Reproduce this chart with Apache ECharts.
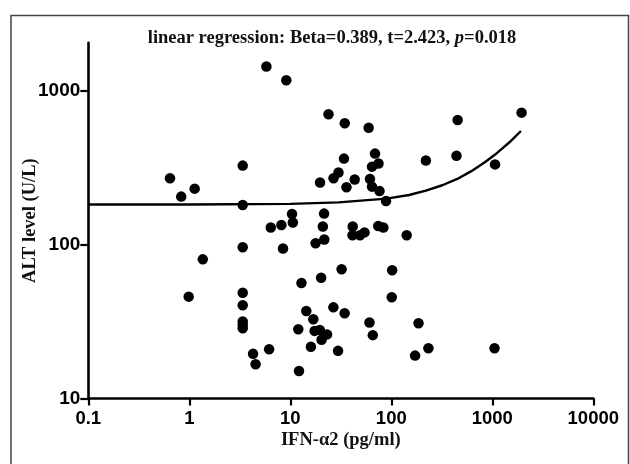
<!DOCTYPE html>
<html>
<head>
<meta charset="utf-8">
<script src="https://cdn.jsdelivr.net/npm/echarts@6/dist/echarts.min.js"></script>
<style>html,body{margin:0;padding:0;background:#fff}#c{width:630px;height:464px}</style>
</head>
<body>
<div id="c"></div>
<script>
// IFN-α2 (pg/ml) values of each subject
const ifnValues = [5.80, 9.13, 23.9, 34.6, 59.7, 0.644, 0.832, 1.13, 3.38, 3.38,
  19.7, 26.8, 30.0, 34.0, 69.0, 74.7, 64.4, 43.4, 36.0, 61.5,
  64.4, 76.4, 88.7, 220, 454, 442, 1064, 1950, 10.4, 10.6,
  8.16, 6.41, 21.6, 21.0, 21.7, 17.8, 8.47, 3.38, 1.36, 41.5,
  41.3, 49.0, 54.3, 74.3, 83.4, 142, 32.2, 102, 101, 20.2,
  12.9, 0.986, 3.38, 3.38, 3.38, 3.38, 3.38, 14.4, 16.9, 26.7,
  34.5, 60.8, 65.6, 186, 233, 172, 1052, 12.0, 17.4, 19.6,
  23.1, 20.4, 16.0, 29.7, 6.17, 4.28, 4.53, 12.2];
// ALT level (U/L) values of each subject
const altValues = [1436, 1169, 702, 614, 575, 270, 205, 231, 326, 181,
  253, 270, 294, 362, 390, 336, 321, 265, 236, 267,
  238, 223, 192, 352, 645, 378, 332, 720, 158, 139,
  134, 129, 159, 131, 108, 102, 94.4, 96.2, 80.2, 131,
  115, 115, 120, 132, 129, 115, 69.1, 68.1, 45.5, 60.9,
  56.3, 45.9, 48.7, 40.4, 31.7, 30.0, 28.6, 37.0, 32.7, 39.1,
  35.8, 31.2, 25.8, 30.8, 21.2, 19.0, 21.2, 28.2, 27.5, 27.9,
  26.1, 24.1, 21.7, 20.4, 20.9, 19.5, 16.7, 15.1];
// regression curve
const curveX = [0.1, 1, 10, 30, 90, 150, 220, 320, 450, 620, 850, 1100, 1250, 1450, 1650, 1920];
const curveY = [182, 182, 184, 188, 199, 210, 224, 243, 267, 300, 344, 391, 420, 457, 495, 547];
// axis ticks
const xTicks = [0.1, 1, 10, 100, 1000, 10000];
const yTicks = [10, 100, 1000];
const xTickLabels = ['0.1', '1', '10', '100', '1000', '10000'];
const yTickLabels = ['10', '100', '1000'];

const serif = "'Liberation Serif','Times New Roman',serif";
const sans = "'Liberation Sans',Arial,sans-serif";
const chart = echarts.init(document.getElementById('c'), null, {renderer: 'canvas'});
const scatterData = ifnValues.map((v, i) => [v, altValues[i]]);
const curveData = curveX.map((v, i) => [v, curveY[i]]);
function fmt(list, labels) {
  return function (v) {
    for (let i = 0; i < list.length; i++) {
      if (Math.abs(Math.log10(v) - Math.log10(list[i])) < 1e-6) return labels[i];
    }
    return '';
  };
}
chart.setOption({
  animation: false,
  backgroundColor: '#fff',
  title: {
    text: '{b|linear regression: Beta=0.389, t=2.423, }{i|p}{b|=0.018}',
    left: 327, top: 24, textAlign: 'center',
    textStyle: {
      rich: {
        b: {fontFamily: serif, fontWeight: 'bold', fontSize: 18.5, color: '#111'},
        i: {fontFamily: serif, fontWeight: 'bold', fontStyle: 'italic', fontSize: 18.5, color: '#111'}
      }
    }
  },
  graphic: [
    {type: 'polyline', shape: {points: [[11, 470], [11, 15.5], [628.5, 15.5], [628.5, 470]]},
     style: {stroke: '#444', lineWidth: 1.5, fill: null}, silent: true}
  ],
  grid: {left: 88.3, right: 36.7, top: 42.7, bottom: 65.5, containLabel: false},
  xAxis: {
    type: 'log', logBase: 10, min: 0.1, max: 10000,
    name: 'IFN-α2 (pg/ml)', nameLocation: 'middle', nameGap: 32, nameMoveOverlap: false,
    nameTextStyle: {fontFamily: serif, fontWeight: 'bold', fontSize: 18.5, color: '#111'},
    axisLine: {show: true, onZero: false, lineStyle: {color: '#000', width: 2.6}},
    axisTick: {show: true, length: 7, lineStyle: {color: '#000', width: 2.2}, customValues: xTicks},
    axisLabel: {show: true, margin: 11, fontFamily: sans, fontWeight: 'bold', fontSize: 18.5, color: '#000',
      customValues: xTicks, formatter: fmt(xTicks, xTickLabels)},
    splitLine: {show: false}, minorTick: {show: false}
  },
  yAxis: {
    type: 'log', logBase: 10, min: 10, max: 2050,
    name: 'ALT level (U/L)', nameLocation: 'middle', nameGap: 49, nameMoveOverlap: false,
    nameTextStyle: {fontFamily: serif, fontWeight: 'bold', fontSize: 18.5, color: '#111'},
    axisLine: {show: true, onZero: false, lineStyle: {color: '#000', width: 2.6}},
    axisTick: {show: true, length: 8, lineStyle: {color: '#000', width: 2.2}, customValues: yTicks},
    axisLabel: {show: true, margin: 8, fontFamily: sans, fontWeight: 'bold', fontSize: 19, color: '#000',
      customValues: yTicks, formatter: fmt(yTicks, yTickLabels)},
    splitLine: {show: false}, minorTick: {show: false}
  },
  series: [
    {type: 'line', data: curveData, smooth: false, showSymbol: false, symbol: 'none',
     lineStyle: {color: '#000', width: 2.4, join: 'round'}, z: 2},
    {type: 'scatter', data: scatterData, symbol: 'circle', symbolSize: 10.5,
     itemStyle: {color: '#000', opacity: 1}, z: 3}
  ]
});
</script>
</body>
</html>
